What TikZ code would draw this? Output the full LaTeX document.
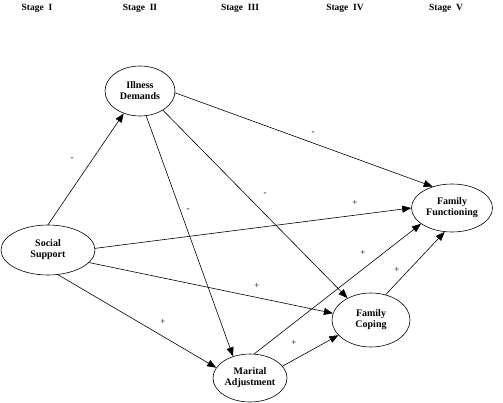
\documentclass[tikz,border=0pt]{standalone}
\usepackage{fontspec}
\setmainfont{Liberation Serif}
\usetikzlibrary{shapes.geometric,arrows.meta}
\begin{document}
\begin{tikzpicture}[x=1pt,y=-1pt,
  var/.style={ellipse,draw,line width=0.6pt,minimum width=#1,align=center,font=\fontsize{10}{11}\selectfont\bfseries,inner sep=0pt},
  stagelbl/.style={font=\fontsize{9.5}{11}\selectfont\bfseries},
  path/.style={draw,line width=0.6pt,-{Triangle[length=9pt,width=7pt]}},
  sign/.style={font=\fontsize{9}{10}\selectfont}]
\useasboundingbox (0,0) rectangle (503,403);
\node[stagelbl] (s1) at (37,8) {Stage\ \ I};
\node[stagelbl] (s2) at (140,8) {Stage\ \ II};
\node[stagelbl] (s3) at (240,8) {Stage\ \ III};
\node[stagelbl] (s4) at (345,8) {Stage\ \ IV};
\node[stagelbl] (s5) at (446,8) {Stage\ \ V};

\node[var=70pt,minimum height=50pt] (ill) at (140,91) {Illness\\Demands};
\node[var=94pt,minimum height=50pt] (soc) at (48,250) {Social\\Support};
\node[var=74pt,minimum height=48pt] (mar) at (250,378) {Marital\\Adjustment};
\node[var=78pt,minimum height=54pt] (cop) at (371,320) {Family\\Coping};
\node[var=81pt,minimum height=48pt] (ff) at (452,208) {Family\\Functioning};

\draw[path] (soc.90) -- (ill.234);
\draw[path] (ill.-76) -- (mar.128);
\draw[path] (ill.-3) -- (ff.132);
\draw[path] (ill.-40) -- (cop.137);
\draw[path] (soc.2) -- (ff.180);
\draw[path] (soc.-17) -- (cop.170);
\draw[path] (soc.-68) -- (mar.163);
\draw[path] (mar.80) -- (ff.-153);
\draw[path] (mar.20) -- (cop.205);
\draw[path] (cop.60) -- (ff.-107);

\node[sign] (l1) at (72,159) {-};
\node[sign] (l2) at (188,210) {-};
\node[sign] (l3) at (313,133) {-};
\node[sign] (l4) at (265,194) {-};
\node[sign] (l5) at (355,203) {+};
\node[sign] (l6) at (257,286) {+};
\node[sign] (l7) at (163,322) {+};
\node[sign] (l8) at (363,253) {+};
\node[sign] (l9) at (294,343) {+};
\node[sign] (l10) at (397,270) {+};
\end{tikzpicture}
\end{document}
